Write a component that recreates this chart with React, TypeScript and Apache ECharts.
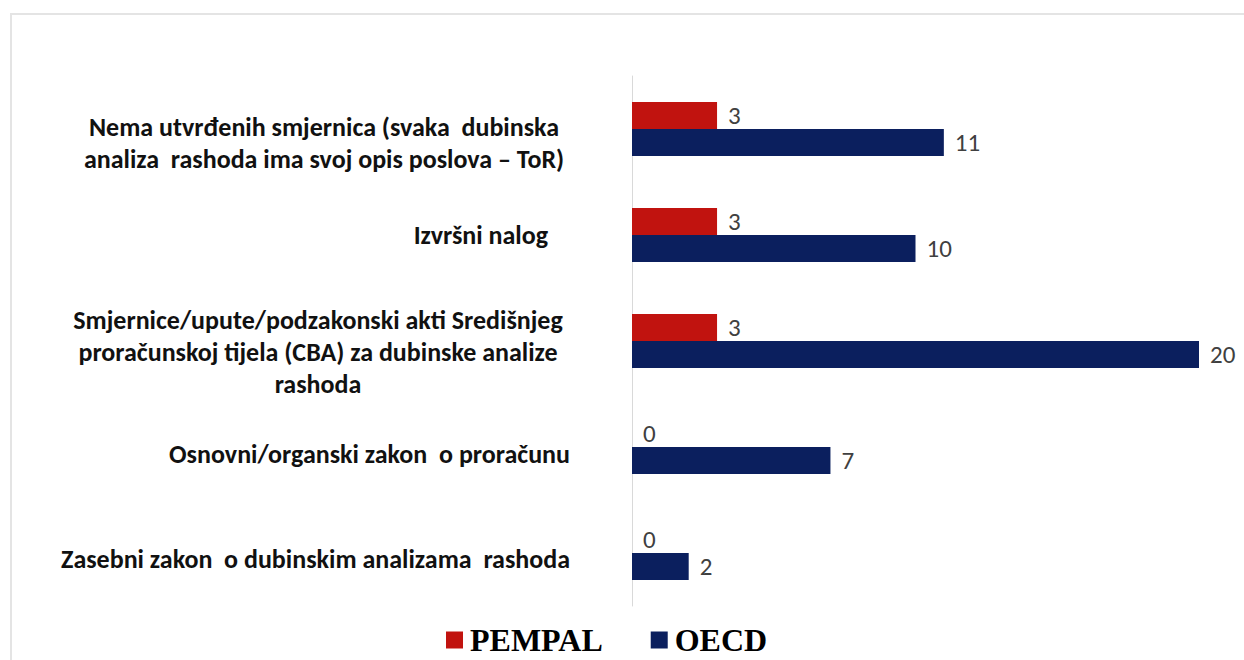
import React, { useEffect, useRef } from "react";
import * as echarts from "echarts";

const categories = [
  "Nema utvrđenih smjernica (svaka  dubinska\nanaliza  rashoda ima svoj opis poslova – ToR)",
  "Izvršni nalog",
  "Smjernice/upute/podzakonski akti Središnjeg\nproračunskoj tijela (CBA) za dubinske analize\nrashoda",
  "Osnovni/organski zakon  o proračunu",
  "Zasebni zakon  o dubinskim analizama  rashoda",
];
const seriesNames = ["PEMPAL", "OECD"];
const pempalValues = [3, 3, 3, 0, 0];
const oecdValues = [11, 10, 20, 7, 2];

const LABEL_FONT = "Carlito, Lato, 'Noto Sans', sans-serif";

export default function App() {
  const ref = useRef<HTMLDivElement>(null);
  useEffect(() => {
    if (!ref.current) return;
    const chart = echarts.init(ref.current, undefined, { renderer: "svg" });
    const base = {
      fontFamily: LABEL_FONT,
      fontSize: 26,
      fontWeight: "bold" as const,
      color: "#111",
      lineHeight: 32,
    };
    const blockWidths: Record<number, number> = { 0: 492, 2: 504 };
    // vertical nudges of the wrapped labels (text sits a bit below band centre)
    const labelShift = [28, 0, 22, 14, 12];
    const valueLabel = {
      show: true,
      position: "right" as const,
      distance: 11,
      color: "#404040",
      fontFamily: "Carlito, Lato, sans-serif",
      fontSize: 25,
    };
    chart.setOption({
      animation: false,
      backgroundColor: "#fff",
      graphic: [
        {
          type: "rect",
          shape: { x: 11, y: 14, width: 1300, height: 700 },
          style: { fill: "none", stroke: "#e4e4e4", lineWidth: 2 },
          silent: true,
        },
      ],
      legend: {
        data: seriesNames,
        top: 622,
        left: 446,
        itemWidth: 17,
        itemHeight: 17,
        itemGap: 48,
        icon: "rect",
        padding: 0,
        textStyle: {
          fontFamily: "'Liberation Serif', 'Times New Roman', serif",
          fontWeight: "bold",
          fontSize: 32,
          lineHeight: 36,
          color: "#000",
          padding: [0, 0, 0, 2],
        },
      },
      grid: { left: 632, right: 45, top: 76, bottom: 54 },
      xAxis: {
        type: "value",
        min: 0,
        max: 20,
        show: false,
      },
      yAxis: {
        type: "category",
        data: categories.map((c, i) => ({
          value: c,
          textStyle: { padding: [labelShift[i], 0, 0, 0] },
        })),
        inverse: true,
        axisLine: { show: true, lineStyle: { color: "#d9d9d9", width: 1 } },
        axisTick: { show: false },
        axisLabel: {
          interval: 0,
          margin: 62,
          align: "right",
          formatter: (value: string, index: number) => {
            const lines = value.split("\n");
            if (blockWidths[index] !== undefined) {
              return lines.map((l) => `{b${index}|${l}}`).join("\n");
            }
            if (index === 1) return `{iz|${value}}`;
            return `{s|${value}}`;
          },
          rich: {
            b0: { ...base, width: blockWidths[0], align: "center" },
            b2: { ...base, width: blockWidths[2], align: "center" },
            iz: { ...base, padding: [0, 22, 0, 0] },
            s: { ...base },
          },
        },
      },
      series: [
        {
          name: seriesNames[0],
          type: "bar",
          data: pempalValues,
          barWidth: 27,
          barGap: "0%",
          itemStyle: { color: "#C1130F" },
          label: valueLabel,
        },
        {
          name: seriesNames[1],
          type: "bar",
          data: oecdValues,
          barWidth: 27,
          barGap: "0%",
          itemStyle: { color: "#0B1F5E" },
          label: valueLabel,
        },
      ],
    });
    return () => chart.dispose();
  }, []);
  return (
    <div
      ref={ref}
      style={{ position: "fixed", left: 0, top: 0, width: 1244, height: 660 }}
    />
  );
}
